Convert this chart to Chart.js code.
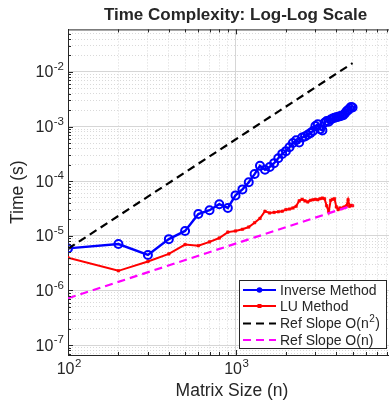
<!DOCTYPE html>
<html>
<head>
<meta charset="utf-8">
<script src="https://cdn.jsdelivr.net/npm/chart.js@4.4.0/dist/chart.umd.min.js"></script>
<style>
  html, body { margin: 0; padding: 0; background: #fff; overflow: hidden; }
  #wrap { width: 389px; height: 403px; overflow: hidden; }
</style>
</head>
<body>
<div id="wrap"><canvas id="chart" width="420" height="403"></canvas></div>
<script>
// matrix sizes n
const sizes = [100, 200, 300, 400, 500, 600, 700, 800, 900, 1000,
  1100, 1200, 1300, 1400, 1500, 1600, 1700, 1800, 1900, 2000,
  2100, 2200, 2300, 2400, 2500, 2600, 2700, 2800, 2900, 3000,
  3100, 3200, 3300, 3400, 3500, 3600, 3700, 3800, 3900, 4000,
  4100, 4200, 4300, 4400, 4500, 4600, 4700, 4800, 4900, 5000];

// time (s) using inv(A)*b
const inverseTimes = [5.89e-6, 7.08e-6, 4.47e-6, 8.71e-6, 1.23e-5, 2.51e-5, 2.95e-5, 3.80e-5, 3.24e-5, 5.50e-5,
  7.08e-5, 9.55e-5, 1.35e-4, 1.91e-4, 1.62e-4, 1.82e-4, 2.14e-4, 2.63e-4, 3.16e-4, 3.55e-4,
  4.17e-4, 5.01e-4, 5.62e-4, 5.13e-4, 6.31e-4, 6.61e-4, 7.08e-4, 7.59e-4, 8.32e-4, 1.02e-3,
  1.10e-3, 8.91e-4, 8.51e-4, 1.17e-3, 1.26e-3, 1.23e-3, 1.35e-3, 1.41e-3, 1.45e-3, 1.48e-3,
  1.51e-3, 1.55e-3, 1.58e-3, 1.62e-3, 1.74e-3, 1.91e-3, 2.00e-3, 2.14e-3, 2.29e-3, 2.24e-3];

// time (s) using LU
const luTimes = [3.98e-6, 2.29e-6, 3.39e-6, 4.68e-6, 6.92e-6, 6.61e-6, 7.76e-6, 9.12e-6, 1.17e-5, 1.23e-5,
  1.32e-5, 1.45e-5, 1.74e-5, 2.09e-5, 2.82e-5, 2.63e-5, 2.69e-5, 2.75e-5, 2.82e-5, 3.02e-5,
  3.09e-5, 3.24e-5, 3.47e-5, 4.37e-5, 4.68e-5, 4.37e-5, 4.17e-5, 4.47e-5, 4.57e-5, 4.68e-5,
  4.57e-5, 4.79e-5, 4.90e-5, 4.79e-5, 3.55e-5, 2.75e-5, 4.47e-5, 4.68e-5, 4.79e-5, 3.39e-5,
  3.02e-5, 3.24e-5, 3.16e-5, 3.31e-5, 3.39e-5, 3.55e-5, 4.57e-5, 3.47e-5, 3.63e-5, 3.55e-5];

// reference slopes (end points)
const refSizes = [100, 5000];
const refN2Times = [5.8e-6, 1.45e-2];
const refNTimes = [7.2e-7, 3.6e-5];

const xTickExps = [2, 3];
const yTickExps = [-7, -6, -5, -4, -3, -2];

const FONT = "'Liberation Sans', Arial, Helvetica, sans-serif";
const AXIS_COLOR = '#262626';

const pts = (xs, ys) => xs.map((x, i) => ({ x: x, y: ys[i] }));

const isMajor = v => Math.abs(Math.log10(v) - Math.round(Math.log10(v))) < 1e-6;

function logTicks(min, max) {
  const out = [];
  for (let e = Math.floor(Math.log10(min)); e <= Math.ceil(Math.log10(max)); e++) {
    for (let m = 1; m <= 9; m++) {
      const v = m * Math.pow(10, e);
      if (v > min * 1.0001 && v < max * 0.9999) out.push({ value: v });
    }
  }
  return out;
}

function drawPow(ctx, exp, x, y, align) {
  // "10" with a raised exponent
  ctx.font = '16px ' + FONT;
  const wb = ctx.measureText('10').width;
  ctx.font = '11.5px ' + FONT;
  const ex = String(exp);
  const we = ctx.measureText(ex).width;
  const total = wb + we + 0.5;
  let x0 = align === 'right' ? x - total : x - total / 2;
  ctx.textAlign = 'left';
  ctx.textBaseline = 'middle';
  ctx.font = '16px ' + FONT;
  ctx.fillText('10', x0, y + 1);
  ctx.font = '11.5px ' + FONT;
  ctx.fillText(ex, x0 + wb + 0.5, y - 5);
}

const decor = {
  id: 'decor',
  afterDraw(chart) {
    const ctx = chart.ctx;
    const a = chart.chartArea;
    const xs = chart.scales.x, ys = chart.scales.y;
    ctx.save();
    ctx.strokeStyle = AXIS_COLOR;
    ctx.lineWidth = 1;
    // top border
    ctx.beginPath();
    ctx.moveTo(a.left, a.top + 0.5);
    ctx.lineTo(a.right, a.top + 0.5);
    ctx.stroke();
    // inward tick marks
    ctx.beginPath();
    xs.ticks.forEach(t => {
      const px = Math.round(xs.getPixelForValue(t.value)) + 0.5;
      const len = isMajor(t.value) ? 5 : 3;
      ctx.moveTo(px, a.bottom); ctx.lineTo(px, a.bottom - len);
      ctx.moveTo(px, a.top); ctx.lineTo(px, a.top + len);
    });
    ys.ticks.forEach(t => {
      const py = Math.round(ys.getPixelForValue(t.value)) + 0.5;
      const len = isMajor(t.value) ? 5 : 3;
      ctx.moveTo(a.left, py); ctx.lineTo(a.left + len, py);
    });
    ctx.stroke();

    // tick labels
    ctx.fillStyle = AXIS_COLOR;
    yTickExps.forEach(e => {
      const py = ys.getPixelForValue(Math.pow(10, e));
      drawPow(ctx, e, a.left - 4, py, 'right');
    });
    xTickExps.forEach(e => {
      const px = xs.getPixelForValue(Math.pow(10, e));
      drawPow(ctx, e, px + 1, a.bottom + 14, 'center');
    });

    // axis titles
    ctx.font = '17.5px ' + FONT;
    ctx.textAlign = 'center';
    ctx.textBaseline = 'middle';
    ctx.fillText('Matrix Size (n)', 232, 391);
    ctx.save();
    ctx.translate(18, (a.top + a.bottom) / 2);
    ctx.rotate(-Math.PI / 2);
    ctx.fillText('Time (s)', 0, 0);
    ctx.restore();

    // legend
    const lx = 239.5, ly = 280.5, lw = 147, lh = 68;
    ctx.fillStyle = '#fff';
    ctx.fillRect(lx, ly, lw, lh);
    ctx.strokeStyle = AXIS_COLOR;
    ctx.strokeRect(lx, ly, lw, lh);
    const rows = [290, 306, 323.5, 340];
    const ds = chart.data.datasets;
    const lf = '14px ' + FONT;
    ds.forEach((d, i) => {
      const y = rows[i];
      ctx.strokeStyle = d.borderColor;
      ctx.lineWidth = 2;
      ctx.setLineDash(d.borderDash || []);
      ctx.beginPath();
      ctx.moveTo(243, y);
      ctx.lineTo(276, y);
      ctx.stroke();
      ctx.setLineDash([]);
      if (i === 0) {
        ctx.fillStyle = d.borderColor;
        ctx.beginPath();
        ctx.arc(259.5, y, 2.8, 0, Math.PI * 2);
        ctx.fill();
      } else if (i === 1) {
        ctx.fillStyle = d.borderColor;
        ctx.fillRect(257.5, y - 2, 4, 4);
      }
      ctx.fillStyle = AXIS_COLOR;
      ctx.font = lf;
      ctx.textAlign = 'left';
      ctx.textBaseline = 'middle';
      if (d.label.indexOf('²') >= 0) {
        const base = d.label.replace('²)', '');
        ctx.fillText(base, 280, y + 1);
        const w = ctx.measureText(base).width;
        ctx.font = '10px ' + FONT;
        ctx.fillText('2', 280 + w + 0.5, y - 4);
        const w2 = ctx.measureText('2').width;
        ctx.font = lf;
        ctx.fillText(')', 280 + w + w2 + 1, y + 1);
      } else {
        ctx.fillText(d.label, 280, y + 1);
      }
    });
    ctx.restore();
  }
};

const gridColor = c => isMajor(c.tick.value) ? '#d6d6d6' : '#d9d9d9';
const gridDash = c => (c.tick && !isMajor(c.tick.value)) ? [1, 2] : [];

new Chart(document.getElementById('chart'), {
  type: 'line',
  data: {
    datasets: [
      {
        label: 'Inverse Method',
        data: pts(sizes, inverseTimes),
        borderColor: '#0000ff',
        backgroundColor: 'rgba(0,0,0,0)',
        borderWidth: 2.4,
        pointStyle: 'circle',
        pointRadius: 4,
        pointBorderWidth: 2,
        pointBackgroundColor: 'rgba(0,0,0,0)',
        pointBorderColor: '#0000ff',
        order: 4
      },
      {
        label: 'LU Method',
        data: pts(sizes, luTimes),
        borderColor: '#ff0000',
        backgroundColor: '#ff0000',
        borderWidth: 2,
        pointStyle: 'rect',
        pointRadius: 1.8,
        pointBorderWidth: 0.5,
        pointBackgroundColor: '#ff0000',
        pointBorderColor: '#ff0000',
        order: 3
      },
      {
        label: 'Ref Slope O(n²)',
        data: pts(refSizes, refN2Times),
        borderColor: '#000000',
        borderWidth: 2.2,
        borderDash: [8, 5],
        pointRadius: 0,
        order: 2
      },
      {
        label: 'Ref Slope O(n)',
        data: pts(refSizes, refNTimes),
        borderColor: '#ff00ff',
        borderWidth: 2.2,
        borderDash: [8, 5],
        pointRadius: 0,
        order: 1
      }
    ]
  },
  options: {
    responsive: false,
    animation: false,
    devicePixelRatio: 1,
    layout: { padding: { left: 68, right: 17, top: 0, bottom: 48 } },
    plugins: {
      legend: { display: false },
      tooltip: { enabled: false },
      title: {
        display: true,
        text: 'Time Complexity: Log-Log Scale',
        color: AXIS_COLOR,
        font: { family: FONT, size: 17, weight: 'bold' },
        padding: { top: 5, bottom: 4 }
      }
    },
    scales: {
      x: {
        type: 'logarithmic',
        min: 100,
        max: 10000,
        bounds: 'data',
        afterBuildTicks: s => { s.ticks = logTicks(100, 10000); },
        ticks: { display: false },
        grid: { drawTicks: false, color: gridColor, lineWidth: 1 },
        border: { display: true, color: AXIS_COLOR, width: 1, dash: gridDash }
      },
      y: {
        type: 'logarithmic',
        min: 6.6e-8,
        max: 6.0e-2,
        bounds: 'data',
        afterBuildTicks: s => { s.ticks = logTicks(6.6e-8, 6.0e-2); },
        ticks: { display: false },
        grid: { drawTicks: false, color: gridColor, lineWidth: 1 },
        border: { display: true, color: AXIS_COLOR, width: 1, dash: gridDash }
      }
    }
  },
  plugins: [decor]
});
</script>
</body>
</html>
